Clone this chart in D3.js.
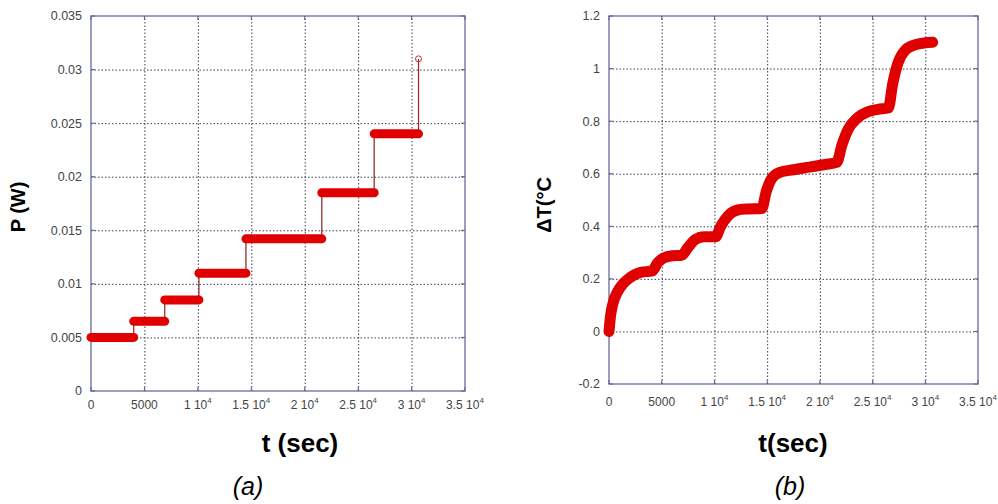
<!DOCTYPE html>
<html>
<head>
<meta charset="utf-8">
<script src="https://cdn.jsdelivr.net/npm/d3@7"></script>
<style>
html,body{margin:0;padding:0;background:#fff;}
svg{display:block;}
text{font-family:Arial,"Liberation Sans",sans-serif;}
</style>
</head>
<body>
<svg id="c" width="998" height="504"></svg>
<script>
// ---------- data ----------
const xTickValues = [0, 5000, 10000, 15000, 20000, 25000, 30000, 35000];
const xTickMantissa = ["0", "5000", "1 10", "1.5 10", "2 10", "2.5 10", "3 10", "3.5 10"];
const xTickExponent = ["", "", "4", "4", "4", "4", "4", "4"];

const pTickValues = [0, 0.005, 0.01, 0.015, 0.02, 0.025, 0.03, 0.035];
const pTickLabels = ["0", "0.005", "0.01", "0.015", "0.02", "0.025", "0.03", "0.035"];

const dtTickValues = [-0.2, 0, 0.2, 0.4, 0.6, 0.8, 1.0, 1.2];
const dtTickLabels = ["-0.2", "0", "0.2", "0.4", "0.6", "0.8", "1", "1.2"];

// panel (a): power steps
const pStepTimes = [0, 4000, 6900, 10100, 14500, 21600, 26500, 30650];
const pLevels = [0.005, 0.0065, 0.0085, 0.011, 0.0142, 0.0185, 0.024];
const pFinalValue = 0.031;

// panel (b): temperature rise
const dtTime = [0, 150, 400, 800, 1300, 2000, 3000, 4100, 4600, 5200, 6000, 6900, 7500, 8200, 9000, 10100,
  10600, 11300, 12200, 13200, 14500, 14900, 15400, 16200, 17500, 19000, 20500, 21600, 22100, 22700, 23500,
  24500, 25500, 26500, 26900, 27400, 28100, 29000, 30000, 30700];
const dtValue = [0, 0.06, 0.11, 0.15, 0.18, 0.205, 0.225, 0.23, 0.26, 0.28, 0.288, 0.29, 0.32, 0.35, 0.36, 0.36,
  0.40, 0.44, 0.462, 0.466, 0.468, 0.53, 0.58, 0.605, 0.615, 0.625, 0.635, 0.643, 0.71, 0.77, 0.81,
  0.835, 0.845, 0.85, 0.94, 1.02, 1.07, 1.09, 1.098, 1.10];

// ---------- drawing ----------
const svg = d3.select("#c");
const frameColor = "#5b5f96";
const gridColor = "#3c3c55";
const red = "#e00000";

function panel(cfg) {
  const g = svg.append("g");
  const x = d3.scaleLinear().domain([0, 35000]).range([cfg.left, cfg.right]);
  const y = d3.scaleLinear().domain(cfg.yDomain).range([cfg.bottom, cfg.top]);

  g.append("rect").attr("x", cfg.left).attr("y", cfg.top)
    .attr("width", cfg.right - cfg.left).attr("height", cfg.bottom - cfg.top)
    .attr("fill", "#fff");

  // grid
  g.append("g").attr("transform", `translate(0,${cfg.bottom})`)
    .call(d3.axisBottom(x).tickValues(xTickValues.slice(1, -1)).tickSize(-(cfg.bottom - cfg.top)).tickFormat(""))
    .call(a => a.select(".domain").remove())
    .call(a => a.selectAll("line").attr("stroke", gridColor).attr("stroke-dasharray", "1.5,2").attr("stroke-width", 1));
  g.append("g").attr("transform", `translate(${cfg.left},0)`)
    .call(d3.axisLeft(y).tickValues(cfg.yTicks.slice(1, -1)).tickSize(-(cfg.right - cfg.left)).tickFormat(""))
    .call(a => a.select(".domain").remove())
    .call(a => a.selectAll("line").attr("stroke", gridColor).attr("stroke-dasharray", "1.5,2").attr("stroke-width", 1));

  // frame
  g.append("rect").attr("x", cfg.left).attr("y", cfg.top)
    .attr("width", cfg.right - cfg.left).attr("height", cfg.bottom - cfg.top)
    .attr("fill", "none").attr("stroke", frameColor).attr("stroke-width", 1.2);

  // inward ticks
  const tk = g.append("g").attr("stroke", frameColor).attr("stroke-width", 1);
  xTickValues.forEach(v => {
    tk.append("line").attr("x1", x(v)).attr("x2", x(v)).attr("y1", cfg.bottom).attr("y2", cfg.bottom - 4);
    tk.append("line").attr("x1", x(v)).attr("x2", x(v)).attr("y1", cfg.top).attr("y2", cfg.top + 4);
  });
  cfg.yTicks.forEach(v => {
    tk.append("line").attr("x1", cfg.left).attr("x2", cfg.left + 4).attr("y1", y(v)).attr("y2", y(v));
    tk.append("line").attr("x1", cfg.right).attr("x2", cfg.right - 4).attr("y1", y(v)).attr("y2", y(v));
  });

  // x tick labels
  xTickValues.forEach((v, i) => {
    const t = g.append("text").attr("x", x(v)).attr("y", cfg.bottom + cfg.xLabelOffset)
      .attr("text-anchor", "middle").attr("font-size", 12).attr("fill", "#444");
    t.append("tspan").text(xTickMantissa[i]);
    if (xTickExponent[i]) t.append("tspan").attr("dy", -6).attr("font-size", 8).text(xTickExponent[i]);
  });
  // y tick labels
  cfg.yTicks.forEach((v, i) => {
    g.append("text").attr("x", cfg.left - 9).attr("y", y(v)).attr("dy", "0.35em")
      .attr("text-anchor", "end").attr("font-size", 12.5).attr("fill", "#444").text(cfg.yLabels[i]);
  });

  // titles
  g.append("text").attr("x", cfg.xTitleX).attr("y", 452).attr("text-anchor", "middle")
    .attr("font-size", 26).attr("font-weight", "bold").attr("fill", "#000").text(cfg.xTitle);
  g.append("text").attr("transform", `translate(${cfg.yTitleX},${cfg.yTitleY}) rotate(-90)`)
    .attr("text-anchor", "middle").attr("font-size", 20).attr("font-weight", "bold").attr("fill", "#000")
    .text(cfg.yTitle);
  g.append("text").attr("x", cfg.capX).attr("y", 495).attr("text-anchor", "middle")
    .attr("font-size", 25).attr("font-style", "italic").attr("fill", "#000").text(cfg.caption);

  return { g, x, y };
}

// panel (a)
const A = panel({
  left: 91, right: 465, top: 16, bottom: 391, yDomain: [0, 0.035],
  yTicks: pTickValues, yLabels: pTickLabels, xLabelOffset: 18,
  xTitle: "t (sec)", xTitleX: 300, yTitle: "P (W)", yTitleX: 25, yTitleY: 207,
  caption: "(a)", capX: 248
});
{
  const { g, x, y } = A;
  // thin step connectors
  const conn = g.append("g").attr("stroke", "#8a1f1f").attr("stroke-width", 1.2);
  for (let i = 1; i < pLevels.length; i++) {
    conn.append("line").attr("x1", x(pStepTimes[i])).attr("x2", x(pStepTimes[i]))
      .attr("y1", y(pLevels[i - 1])).attr("y2", y(pLevels[i]));
  }
  const last = pStepTimes[pStepTimes.length - 1];
  g.append("line").attr("x1", x(last)).attr("x2", x(last))
    .attr("y1", y(pLevels[pLevels.length - 1])).attr("y2", y(pFinalValue))
    .attr("stroke", "#b02020").attr("stroke-width", 1.2);
  // thick step bands
  pLevels.forEach((v, i) => {
    g.append("line").attr("x1", x(pStepTimes[i])).attr("x2", x(pStepTimes[i + 1]))
      .attr("y1", y(v)).attr("y2", y(v))
      .attr("stroke", red).attr("stroke-width", 9).attr("stroke-linecap", "round");
  });
  g.append("circle").attr("cx", x(last)).attr("cy", y(pFinalValue)).attr("r", 3)
    .attr("fill", "none").attr("stroke", "#c03030").attr("stroke-width", 1);
}

// panel (b)
const B = panel({
  left: 609, right: 978, top: 16, bottom: 384, yDomain: [-0.2, 1.2],
  yTicks: dtTickValues, yLabels: dtTickLabels, xLabelOffset: 22,
  xTitle: "t(sec)", xTitleX: 793, yTitle: "ΔT(°C", yTitleX: 551, yTitleY: 205,
  caption: "(b)", capX: 790
});
{
  const { g, x, y } = B;
  const pts = dtTime.map((t, i) => [t, dtValue[i]]);
  const line = d3.line().x(d => x(d[0])).y(d => y(d[1])).curve(d3.curveMonotoneX);
  g.append("path").attr("d", line(pts)).attr("fill", "none")
    .attr("stroke", red).attr("stroke-width", 11)
    .attr("stroke-linecap", "round").attr("stroke-linejoin", "round");
}
</script>
</body>
</html>
